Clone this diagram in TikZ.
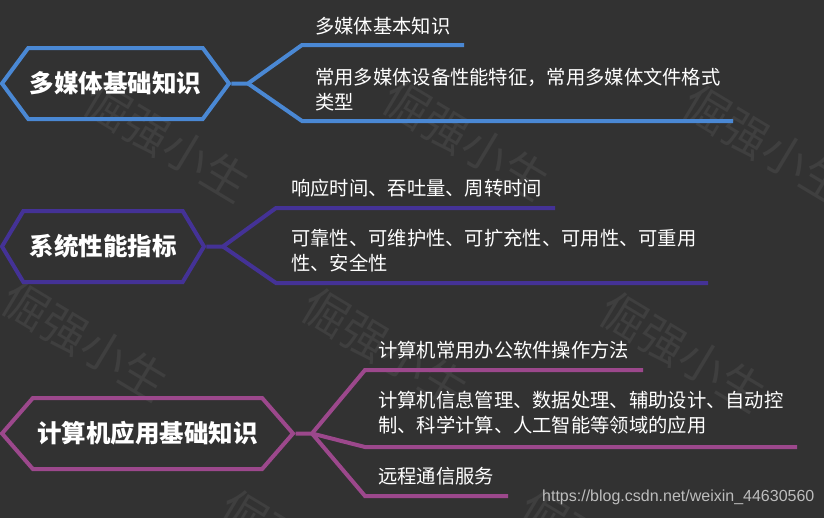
\documentclass[tikz,border=0pt]{standalone}
\usepackage{fontspec}
\setmainfont{Noto Sans CJK SC}
\setsansfont{Liberation Sans}
\usetikzlibrary{shapes.symbols,positioning}
\definecolor{bgdark}{HTML}{323232}
\definecolor{mmblue}{HTML}{4A88D4}
\definecolor{sysindigo}{HTML}{443296}
\definecolor{appmagenta}{HTML}{9C488C}
\definecolor{wmgrey}{HTML}{3F3F3F}
\definecolor{urlgrey}{HTML}{BDBDBD}

\begin{document}
\begin{tikzpicture}[x=1pt, y=-1pt,
    hexa/.style={signal, signal to=west and east, draw=#1, line width=4pt,
        text=white, font=\fontsize{24.5}{28}\selectfont\bfseries,
        inner sep=0pt, minimum height=71pt},
    branch/.style={line width=4pt, line join=miter},
    leaf/.style={anchor=west, text=white, font=\fontsize{19.3}{25}\selectfont,
        align=left, inner sep=0pt},
    wmark/.style={text=wmgrey, font=\fontsize{46}{46}\selectfont, rotate=-31}
]

% Sfondo
\useasboundingbox (0,0) rectangle (824,517);
\clip (0,0) rectangle (824,517);
\fill[bgdark] (-5,-5) rectangle (830,525);

% Filigrana
\foreach \wx/\wy in {167/142, 466/140, 766/145, 85/341, 385/348, 683/352, 3/550, 303/550, 603/550}
    \node[wmark] at (\wx,\wy) {倔强小生};

% MULTIMEDIA
\node[hexa=mmblue, signal pointer angle=107, minimum width=227pt] (mm) at (115.5,83.5) {多媒体基础知识};
\coordinate (mmj) at (248,83.5);
\coordinate (mma) at (302,45);  \coordinate (mmae) at (464,45);
\coordinate (mmb) at (302,121); \coordinate (mmbe) at (733,121);
\draw[branch, mmblue] (mm.east) -- (mmj) -- (mma) -- (mmae);
\draw[branch, mmblue] (mmj) -- (mmb) -- (mmbe);
\node[leaf] (mm1) at (315,26) {多媒体基本知识};
\node[leaf] (mm2) at (315,90) {常用多媒体设备性能特征，常用多媒体文件格式\\类型};

% PRESTAZIONI
\node[hexa=sysindigo, signal pointer angle=118, minimum width=202pt] (sys) at (103,246.5) {系统性能指标};
\coordinate (sysj) at (223,246.5);
\coordinate (sysa) at (276,208); \coordinate (sysae) at (555,208);
\coordinate (sysb) at (276,283); \coordinate (sysbe) at (708,283);
\draw[branch, sysindigo] (sys.east) -- (sysj) -- (sysa) -- (sysae);
\draw[branch, sysindigo] (sysj) -- (sysb) -- (sysbe);
\node[leaf] (sys1) at (291,188) {响应时间、吞吐量、周转时间};
\node[leaf] (sys2) at (291,251) {可靠性、可维护性、可扩充性、可用性、可重用\\性、安全性};

% APPLICAZIONI
\node[hexa=appmagenta, signal pointer angle=98, minimum width=291pt] (app) at (147.5,433.5) {计算机应用基础知识};
\coordinate (appj) at (312,433.5);
\coordinate (appa) at (365,370); \coordinate (appae) at (643,370);
\coordinate (appb) at (365,447); \coordinate (appbe) at (797,447);
\coordinate (appc) at (365,496); \coordinate (appce) at (508,496);
\draw[branch, appmagenta] (app.east) -- (appj) -- (appa) -- (appae);
\draw[branch, appmagenta] (appj) -- (appb) -- (appbe);
\draw[branch, appmagenta] (appj) -- (appc) -- (appce);
\node[leaf] (app1) at (378,350) {计算机常用办公软件操作方法};
\node[leaf] (app2) at (378,413) {计算机信息管理、数据处理、辅助设计、自动控\\制、科学计算、人工智能等领域的应用};
\node[leaf] (app3) at (378,476) {远程通信服务};

% URL
\node[anchor=west, inner sep=0pt, text=urlgrey, font=\sffamily\fontsize{16}{18}\selectfont] (url) at (542,497) {https://blog.csdn.net/weixin\_44630560};

\end{tikzpicture}
\end{document}
